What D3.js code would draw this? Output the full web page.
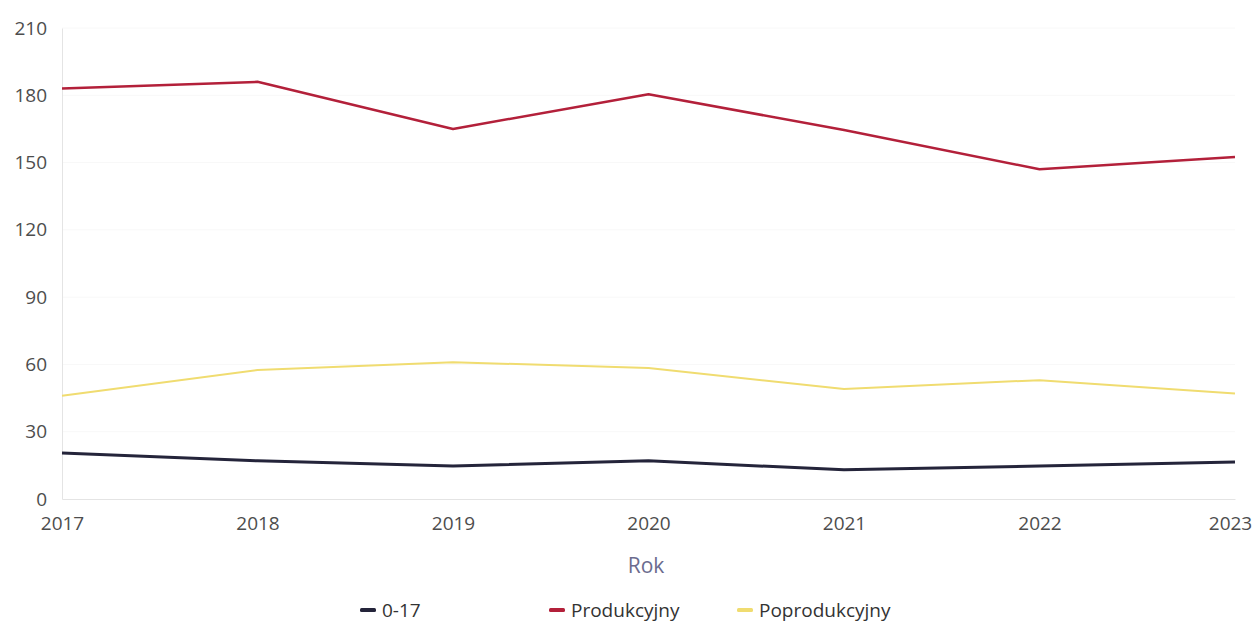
<!DOCTYPE html>
<html>
<head>
<meta charset="utf-8">
<script src="https://cdn.jsdelivr.net/npm/d3@7"></script>
<style>
  body { margin: 0; background: #fff; }
  svg { display: block; font-family: "Open Sans", sans-serif; }
</style>
</head>
<body>
<svg id="chart" width="1259" height="624"></svg>
<script>
// data
var years = [2017, 2018, 2019, 2020, 2021, 2022, 2023];
var yTicks = [0, 30, 60, 90, 120, 150, 180, 210];
var seriesNames = ["0-17", "Produkcyjny", "Poprodukcyjny"];
var seriesColors = ["#24243a", "#b3203a", "#f0dc70"];
var seriesWidths = [3, 2.5, 2];
var v017 = [20.5, 17, 14.7, 17, 13, 14.7, 16.5];
var vProd = [183, 186, 165, 180.5, 164.5, 147, 152.5];
var vPoprod = [46, 57.5, 61, 58.4, 49, 53, 47];

var svg = d3.select("#chart");
var plotLeft = 62, plotRight = 1235, plotTop = 28, plotBottom = 499;

var x = d3.scalePoint().domain(years).range([plotLeft, plotRight]);
var y = d3.scaleLinear().domain([0, 210]).range([plotBottom, plotTop]);

// faint grid
svg.append("g")
  .selectAll("line")
  .data(yTicks.slice(1))
  .enter().append("line")
  .attr("x1", plotLeft).attr("x2", plotRight)
  .attr("y1", function(d) { return y(d); })
  .attr("y2", function(d) { return y(d); })
  .attr("stroke", "#f8f8f8")
  .attr("stroke-width", 1);

// y axis
var yAxis = svg.append("g")
  .attr("transform", "translate(" + plotLeft + ",0)")
  .call(d3.axisLeft(y).tickValues(yTicks).tickSize(0).tickPadding(15));
yAxis.select(".domain").attr("stroke", "#e4e4e4");
yAxis.selectAll("text")
  .style("font-size", "19px")
  .style("font-family", "Open Sans, sans-serif")
  .attr("fill", "#4d4d4d");

// x axis
var xAxis = svg.append("g")
  .attr("transform", "translate(0," + plotBottom + ")")
  .call(d3.axisBottom(x).tickSize(0).tickPadding(18).tickFormat(d3.format("d")));
xAxis.select(".domain").attr("stroke", "#e4e4e4");
xAxis.selectAll("text")
  .style("font-size", "19px")
  .style("font-family", "Open Sans, sans-serif")
  .attr("fill", "#4d4d4d");
// last label sits a little inside the edge
xAxis.selectAll(".tick:last-of-type text").attr("x", -5);

svg.append("text")
  .attr("x", 646)
  .attr("y", 573)
  .attr("text-anchor", "middle")
  .style("font-size", "21px")
  .attr("fill", "#6b6b8e")
  .text("Rok");

var allSeries = [v017, vProd, vPoprod];
var line = d3.line()
  .x(function(d, i) { return x(years[i]); })
  .y(function(d) { return y(d); });

// yellow first, then red, dark on top
[2, 1, 0].forEach(function(k) {
  svg.append("path")
    .datum(allSeries[k])
    .attr("d", line)
    .attr("fill", "none")
    .attr("stroke", seriesColors[k])
    .attr("stroke-width", seriesWidths[k])
    .attr("stroke-linejoin", "round");
});

// legend
var legendX = [360, 549, 737];
var legend = svg.append("g");
seriesNames.forEach(function(name, i) {
  legend.append("rect")
    .attr("x", legendX[i]).attr("y", 608)
    .attr("width", 16).attr("height", 4)
    .attr("rx", 1.5)
    .attr("fill", seriesColors[i]);
  legend.append("text")
    .attr("x", legendX[i] + 22)
    .attr("y", 617)
    .style("font-size", "19px")
    .attr("fill", "#333")
    .text(name);
});
</script>
</body>
</html>
